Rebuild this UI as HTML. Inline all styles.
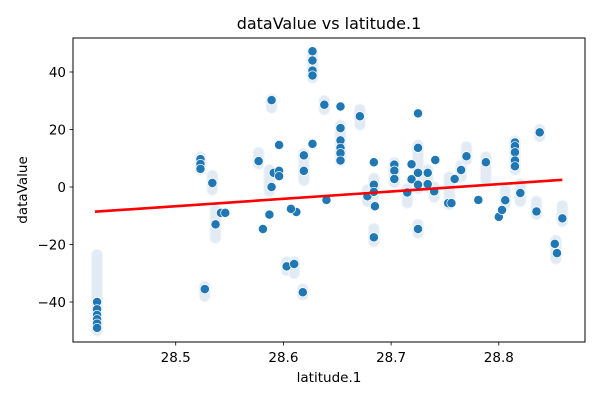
<!DOCTYPE html>
<html><head><meta charset="utf-8"><style>
body{margin:0;background:#fff}
svg{display:block;font-family:"DejaVu Sans","Liberation Sans",sans-serif}
</style></head><body>
<svg id="chart" width="600" height="400" viewBox="0 0 600 400">
<rect x="0" y="0" width="600" height="400" fill="#fff"/>
<g id="bands"></g>
<g id="dots"></g>
<g id="reg"></g>
<rect x="73" y="38" width="512" height="304" fill="none" stroke="#000" stroke-width="1"/>
<g id="xaxis"></g>
<g id="yaxis"></g>
<text x="329" y="29" font-size="16" text-anchor="middle">dataValue vs latitude.1</text>
<text x="329" y="382" font-size="13.5" text-anchor="middle">latitude.1</text>
<text x="27" y="190" font-size="13.5" text-anchor="middle" transform="rotate(-90 27 190)">dataValue</text>
</svg>
<script>
const xTicks = [28.5, 28.6, 28.7, 28.8];
const yTicks = [40, 20, 0, -20, -40];
// light band groups: latitude, low value, high value
const bandLat = [28.427,28.523,28.527,28.534,28.537,28.577,28.587,28.589,28.603,28.610,28.618,28.619,28.627,28.638,28.653,28.671,28.678,28.684,28.684,28.703,28.715,28.725,28.725,28.734,28.740,28.754,28.765,28.770,28.788,28.806,28.815,28.820,28.835,28.838,28.853,28.859];
const bandLo  = [-50,6,-38,-1,-17.7,8,-1.5,27.5,-29,-30,-37.5,2.3,38,27,9,21.6,-5,-19,-3,1.5,-5.5,-0.5,-16,0,-3.5,-6,3.5,9.5,2.5,-6,6,-5,-9.5,17.5,-25,-12];
const bandHi  = [-23.6,10.5,-34.5,4,-8,12,6,30.5,-26,-26,-35.5,11.6,47.2,30,21.5,27,-1,-14.5,3,8.5,-0.5,14.5,-13,6,0,3.5,7.5,14,10.5,-1,16,1,-5,20,-18.5,-6.5];
// dark points: latitude and value
const ptLat = [28.427,28.427,28.427,28.427,28.427,28.427,28.523,28.523,28.523,28.527,28.534,28.537,28.542,28.546,28.577,28.581,28.587,28.589,28.589,28.591,28.596,28.596,28.596,28.603,28.618,28.610,28.612,28.607,28.619,28.619,28.627,28.627,28.627,28.627,28.627,28.638,28.640,28.653,28.653,28.653,28.653,28.653,28.653,28.671,28.678,28.684,28.684,28.685,28.684,28.684,28.703,28.703,28.703,28.715,28.719,28.719,28.725,28.725,28.725,28.725,28.725,28.734,28.734,28.740,28.741,28.753,28.759,28.756,28.765,28.770,28.781,28.788,28.800,28.803,28.806,28.815,28.815,28.815,28.815,28.815,28.820,28.835,28.838,28.852,28.854,28.859];
const ptVal = [-40,-42.5,-44.5,-46,-47.5,-49,9.7,8,6.3,-35.5,1.4,-13,-9,-9,9,-14.6,-9.6,30.2,0,4.9,14.6,5.6,3.8,-27.6,-36.6,-26.8,-8.7,-7.6,11,5.6,47.2,44,40.5,38.8,15,28.6,-4.5,28,20.5,16.2,13.6,11.8,9.2,24.6,-3.2,8.6,-17.5,-6.7,0.8,-1.7,7.8,5.7,2.8,-1.9,2.7,7.9,25.6,13.6,4.9,0.8,-14.6,4.9,1.0,-1.5,9.4,-5.6,2.8,-5.6,5.9,10.7,-4.5,8.6,-10.4,-8,-4.6,15.5,14.2,12.1,9.2,7.2,-2.1,-8.5,19,-19.8,-23,-10.9];
const lineLat = [28.425, 28.859];
const lineVal = [-8.6, 2.5];

const NS = "http://www.w3.org/2000/svg";
function xs(v){ return 175.7 + (v - 28.5) * 1077; }
function ys(v){ return 187 - v * 2.875; }
function mk(tag, attrs, parent){ const e = document.createElementNS(NS, tag); for (const k in attrs) e.setAttribute(k, attrs[k]); parent.appendChild(e); return e; }

const bands = document.getElementById('bands');
for (let i = 0; i < bandLat.length; i++) {
  const x = xs(bandLat[i]), y1 = ys(bandHi[i]), y2 = ys(bandLo[i]);
  const r = mk('rect', {x: x-5.5, y: y1-5.5, width: 11, height: (y2-y1)+11, rx: 5.5, fill: '#e2ebf4', stroke: '#f1f6fb', 'stroke-width': 1}, bands);
  
  
}
const dots = document.getElementById('dots');
for (let i = 0; i < ptLat.length; i++) {
  const c = mk('circle', {cx: xs(ptLat[i]), cy: ys(ptVal[i]), r: 4.6, fill: '#1f77b4', stroke: '#fff', 'stroke-width': 0.7}, dots);
  
  
}
const reg = document.getElementById('reg');
const ln = mk('line', {x1: xs(lineLat[0]), y1: ys(lineVal[0]), x2: xs(lineLat[1]), y2: ys(lineVal[1]), stroke: '#ff0000', 'stroke-width': 2.6}, reg);



const xa = document.getElementById('xaxis');
xTicks.forEach(t => {
  const x = xs(t);
  const tk = mk('line', {x1: x, y1: 342, x2: x, y2: 345.5, stroke: '#000', 'stroke-width': 0.8}, xa);
  
  
  const tx = mk('text', {x: x, y: 362, 'font-size': 13.5, 'text-anchor': 'middle'}, xa);
  tx.textContent = t.toFixed(1);
  
  
});
const ya = document.getElementById('yaxis');
yTicks.forEach(t => {
  const y = ys(t);
  const tk = mk('line', {x1: 69.5, y1: y, x2: 73, y2: y, stroke: '#000', 'stroke-width': 0.8}, ya);
  
  
  const tx = mk('text', {x: 66, y: y + 5, 'font-size': 13.5, 'text-anchor': 'end'}, ya);
  tx.textContent = t < 0 ? '\u2212' + Math.abs(t) : String(t);
  
  
});
</script>
</body></html>
